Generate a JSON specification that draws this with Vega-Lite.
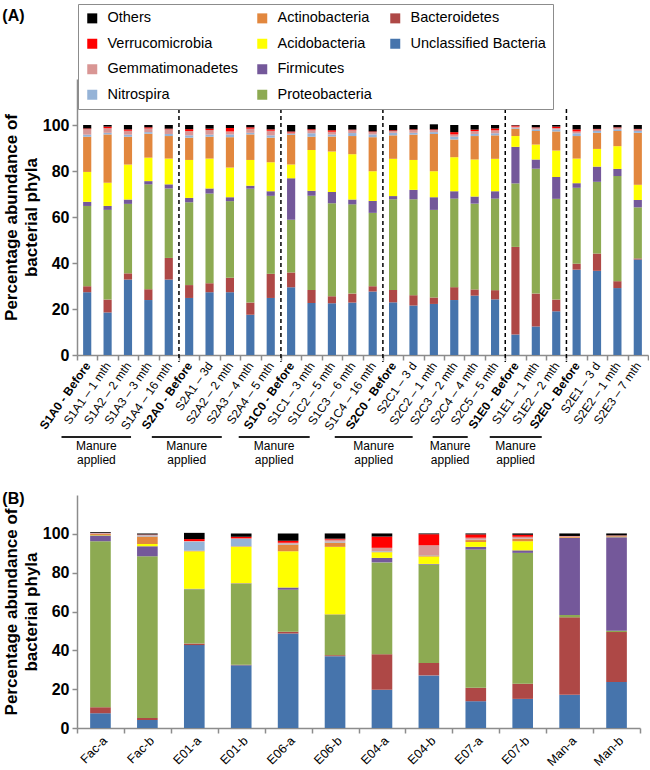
{
  "$schema": "https://vega.github.io/schema/vega-lite/v6.json",
  "padding": {"left": 2, "top": 3, "right": 0, "bottom": 0},
  "config": {
    "font": "Liberation Sans",
    "view": {"stroke": null},
    "axis": {"grid": false, "domainColor": "#8c8c8c", "tickColor": "#8c8c8c", "domainWidth": 1.5, "tickWidth": 1.5, "labelColor": "#000", "titleColor": "#000", "labelFont": "Liberation Sans", "titleFont": "Liberation Sans"},
    "legend": {"labelFont": "Liberation Sans"},
    "title": {"font": "Liberation Sans", "fontSize": 16, "fontWeight": "bold", "color": "#000"}
  },
  "datasets": {
    "phyla": [
      {"p": "Unclassified Bacteria", "k": 1},
      {"p": "Bacteroidetes", "k": 2},
      {"p": "Proteobacteria", "k": 3},
      {"p": "Firmicutes", "k": 4},
      {"p": "Acidobacteria", "k": 5},
      {"p": "Actinobacteria", "k": 6},
      {"p": "Nitrospira", "k": 7},
      {"p": "Gemmatimonadetes", "k": 8},
      {"p": "Verrucomicrobia", "k": 9},
      {"p": "Others", "k": 10}
    ],
    "manure": [
      {"start": -0.76, "end": 2.65, "mid": 0.95, "label": "Manure\napplied"},
      {"start": 3.67, "end": 7.1, "mid": 5.38, "label": "Manure\napplied"},
      {"start": 7.93, "end": 11.41, "mid": 9.67, "label": "Manure\napplied"},
      {"start": 12.64, "end": 16.46, "mid": 14.55, "label": "Manure\napplied"},
      {"start": 17.44, "end": 19.16, "mid": 18.3, "label": "Manure\napplied"},
      {"start": 20.24, "end": 22.79, "mid": 21.51, "label": "Manure\napplied"}
    ],
    "a": [
      {"s": "S1A0 - Before", "Unclassified Bacteria": 27.3, "Bacteroidetes": 2.6, "Proteobacteria": 34.9, "Firmicutes": 1.8, "Acidobacteria": 13.0, "Actinobacteria": 15.3, "Nitrospira": 0.9, "Gemmatimonadetes": 2.4, "Verrucomicrobia": 0.3, "Others": 1.5},
      {"s": "S1A1 – 1 mth", "Unclassified Bacteria": 18.5, "Bacteroidetes": 5.6, "Proteobacteria": 39.0, "Firmicutes": 1.7, "Acidobacteria": 10.1, "Actinobacteria": 21.0, "Nitrospira": 0.7, "Gemmatimonadetes": 2.0, "Verrucomicrobia": 0.7, "Others": 0.7},
      {"s": "S1A2 – 2 mth", "Unclassified Bacteria": 32.8, "Bacteroidetes": 2.7, "Proteobacteria": 30.2, "Firmicutes": 1.9, "Acidobacteria": 15.2, "Actinobacteria": 12.1, "Nitrospira": 0.9, "Gemmatimonadetes": 1.7, "Verrucomicrobia": 0.6, "Others": 1.9},
      {"s": "S1A3 – 3 mth", "Unclassified Bacteria": 23.9, "Bacteroidetes": 4.7, "Proteobacteria": 45.6, "Firmicutes": 1.4, "Acidobacteria": 10.2, "Actinobacteria": 10.4, "Nitrospira": 0.7, "Gemmatimonadetes": 1.6, "Verrucomicrobia": 0.5, "Others": 1.0},
      {"s": "S1A4 – 16 mth", "Unclassified Bacteria": 32.8, "Bacteroidetes": 9.4, "Proteobacteria": 30.2, "Firmicutes": 1.8, "Acidobacteria": 11.2, "Actinobacteria": 9.8, "Nitrospira": 0.9, "Gemmatimonadetes": 2.0, "Verrucomicrobia": 0.3, "Others": 1.6},
      {"s": "S2A0 - Before", "Unclassified Bacteria": 24.8, "Bacteroidetes": 5.6, "Proteobacteria": 36.0, "Firmicutes": 1.9, "Acidobacteria": 16.5, "Actinobacteria": 9.7, "Nitrospira": 1.0, "Gemmatimonadetes": 1.9, "Verrucomicrobia": 0.8, "Others": 1.8},
      {"s": "S2A1 – 3d", "Unclassified Bacteria": 27.3, "Bacteroidetes": 3.9, "Proteobacteria": 39.0, "Firmicutes": 2.2, "Acidobacteria": 13.0, "Actinobacteria": 9.5, "Nitrospira": 0.9, "Gemmatimonadetes": 2.0, "Verrucomicrobia": 0.6, "Others": 1.6},
      {"s": "S2A2 – 2 mth", "Unclassified Bacteria": 27.3, "Bacteroidetes": 6.3, "Proteobacteria": 33.3, "Firmicutes": 1.7, "Acidobacteria": 12.9, "Actinobacteria": 13.2, "Nitrospira": 1.2, "Gemmatimonadetes": 1.3, "Verrucomicrobia": 1.5, "Others": 1.3},
      {"s": "S2A3 – 4 mth", "Unclassified Bacteria": 17.5, "Bacteroidetes": 5.3, "Proteobacteria": 49.5, "Firmicutes": 1.3, "Acidobacteria": 11.2, "Actinobacteria": 11.1, "Nitrospira": 0.7, "Gemmatimonadetes": 1.8, "Verrucomicrobia": 0.6, "Others": 1.0},
      {"s": "S2A4 – 5 mth", "Unclassified Bacteria": 24.8, "Bacteroidetes": 10.5, "Proteobacteria": 33.9, "Firmicutes": 2.0, "Acidobacteria": 12.6, "Actinobacteria": 10.7, "Nitrospira": 1.0, "Gemmatimonadetes": 2.0, "Verrucomicrobia": 0.6, "Others": 1.9},
      {"s": "S1C0 - Before", "Unclassified Bacteria": 29.5, "Bacteroidetes": 6.4, "Proteobacteria": 22.9, "Firmicutes": 18.1, "Acidobacteria": 5.9, "Actinobacteria": 13.0, "Nitrospira": 0.3, "Gemmatimonadetes": 0.6, "Verrucomicrobia": 0.5, "Others": 2.8},
      {"s": "S1C1 – 3 mth", "Unclassified Bacteria": 22.6, "Bacteroidetes": 5.7, "Proteobacteria": 40.9, "Firmicutes": 2.2, "Acidobacteria": 17.7, "Actinobacteria": 5.8, "Nitrospira": 1.5, "Gemmatimonadetes": 1.3, "Verrucomicrobia": 0.4, "Others": 1.9},
      {"s": "S1C2 – 5 mth", "Unclassified Bacteria": 22.5, "Bacteroidetes": 3.0, "Proteobacteria": 40.5, "Firmicutes": 4.9, "Acidobacteria": 17.6, "Actinobacteria": 6.5, "Nitrospira": 0.9, "Gemmatimonadetes": 1.2, "Verrucomicrobia": 0.6, "Others": 2.3},
      {"s": "S1C3 – 6 mth", "Unclassified Bacteria": 22.8, "Bacteroidetes": 3.9, "Proteobacteria": 38.8, "Firmicutes": 2.1, "Acidobacteria": 19.7, "Actinobacteria": 7.9, "Nitrospira": 1.3, "Gemmatimonadetes": 1.2, "Verrucomicrobia": 0.3, "Others": 2.0},
      {"s": "S1C4 – 16 mth", "Unclassified Bacteria": 27.6, "Bacteroidetes": 2.3, "Proteobacteria": 31.9, "Firmicutes": 5.2, "Acidobacteria": 12.9, "Actinobacteria": 14.8, "Nitrospira": 1.2, "Gemmatimonadetes": 1.0, "Verrucomicrobia": 0.3, "Others": 2.8},
      {"s": "S2C0 - Before", "Unclassified Bacteria": 22.9, "Bacteroidetes": 5.4, "Proteobacteria": 39.4, "Firmicutes": 1.4, "Acidobacteria": 16.2, "Actinobacteria": 10.2, "Nitrospira": 1.1, "Gemmatimonadetes": 0.8, "Verrucomicrobia": 0.3, "Others": 2.3},
      {"s": "S2C1 – 3 d", "Unclassified Bacteria": 21.5, "Bacteroidetes": 4.5, "Proteobacteria": 41.7, "Firmicutes": 4.1, "Acidobacteria": 13.0, "Actinobacteria": 11.0, "Nitrospira": 0.8, "Gemmatimonadetes": 1.2, "Verrucomicrobia": 0.3, "Others": 1.9},
      {"s": "S2C2 – 1 mth", "Unclassified Bacteria": 22.2, "Bacteroidetes": 2.8, "Proteobacteria": 38.1, "Firmicutes": 5.5, "Acidobacteria": 11.3, "Actinobacteria": 16.2, "Nitrospira": 0.8, "Gemmatimonadetes": 0.9, "Verrucomicrobia": 0.3, "Others": 2.2},
      {"s": "S2C3 – 2 mth", "Unclassified Bacteria": 23.9, "Bacteroidetes": 5.6, "Proteobacteria": 38.5, "Firmicutes": 3.2, "Acidobacteria": 14.8, "Actinobacteria": 7.7, "Nitrospira": 1.2, "Gemmatimonadetes": 1.0, "Verrucomicrobia": 1.0, "Others": 3.1},
      {"s": "S2C4 – 4 mth", "Unclassified Bacteria": 25.8, "Bacteroidetes": 2.7, "Proteobacteria": 37.3, "Firmicutes": 3.1, "Acidobacteria": 16.1, "Actinobacteria": 10.2, "Nitrospira": 0.9, "Gemmatimonadetes": 1.3, "Verrucomicrobia": 0.6, "Others": 2.0},
      {"s": "S2C5 – 5 mth", "Unclassified Bacteria": 24.2, "Bacteroidetes": 4.0, "Proteobacteria": 39.8, "Firmicutes": 3.2, "Acidobacteria": 14.1, "Actinobacteria": 10.2, "Nitrospira": 0.9, "Gemmatimonadetes": 1.3, "Verrucomicrobia": 0.8, "Others": 1.5},
      {"s": "S1E0 - Before", "Unclassified Bacteria": 8.9, "Bacteroidetes": 38.1, "Proteobacteria": 27.6, "Firmicutes": 15.9, "Acidobacteria": 4.7, "Actinobacteria": 3.2, "Nitrospira": 0.4, "Gemmatimonadetes": 0.5, "Verrucomicrobia": 0.5, "Others": 0.2},
      {"s": "S1E1 – 1 mth", "Unclassified Bacteria": 12.4, "Bacteroidetes": 14.3, "Proteobacteria": 54.3, "Firmicutes": 4.0, "Acidobacteria": 6.5, "Actinobacteria": 5.9, "Nitrospira": 0.7, "Gemmatimonadetes": 0.7, "Verrucomicrobia": 0.2, "Others": 1.0},
      {"s": "S1E2 – 2 mth", "Unclassified Bacteria": 19.0, "Bacteroidetes": 5.1, "Proteobacteria": 43.8, "Firmicutes": 9.5, "Acidobacteria": 11.5, "Actinobacteria": 8.3, "Nitrospira": 0.9, "Gemmatimonadetes": 0.6, "Verrucomicrobia": 0.6, "Others": 0.7},
      {"s": "S2E0 - Before", "Unclassified Bacteria": 37.1, "Bacteroidetes": 2.6, "Proteobacteria": 33.0, "Firmicutes": 2.0, "Acidobacteria": 10.7, "Actinobacteria": 9.8, "Nitrospira": 1.2, "Gemmatimonadetes": 0.8, "Verrucomicrobia": 0.9, "Others": 1.9},
      {"s": "S2E1 – 3 d", "Unclassified Bacteria": 36.6, "Bacteroidetes": 7.5, "Proteobacteria": 31.2, "Firmicutes": 6.6, "Acidobacteria": 7.7, "Actinobacteria": 7.0, "Nitrospira": 0.8, "Gemmatimonadetes": 0.7, "Verrucomicrobia": 0.2, "Others": 1.7},
      {"s": "S2E2 – 1 mth", "Unclassified Bacteria": 29.1, "Bacteroidetes": 3.0, "Proteobacteria": 45.7, "Firmicutes": 3.1, "Acidobacteria": 9.9, "Actinobacteria": 6.6, "Nitrospira": 0.7, "Gemmatimonadetes": 0.7, "Verrucomicrobia": 0.2, "Others": 1.0},
      {"s": "S2E3 – 7 mth", "Unclassified Bacteria": 41.5, "Bacteroidetes": 0.5, "Proteobacteria": 22.2, "Firmicutes": 3.2, "Acidobacteria": 6.6, "Actinobacteria": 22.6, "Nitrospira": 0.8, "Gemmatimonadetes": 0.7, "Verrucomicrobia": 0.2, "Others": 1.7}
    ],
    "b": [
      {"s": "Fac-a", "Unclassified Bacteria": 7.6, "Bacteroidetes": 3.1, "Proteobacteria": 85.5, "Firmicutes": 3.0, "Acidobacteria": 0.2, "Actinobacteria": 0.5, "Nitrospira": 0.2, "Gemmatimonadetes": 0.3, "Verrucomicrobia": 0.1, "Others": 0.4},
      {"s": "Fac-b", "Unclassified Bacteria": 4.1, "Bacteroidetes": 1.1, "Proteobacteria": 83.2, "Firmicutes": 5.2, "Acidobacteria": 1.2, "Actinobacteria": 3.8, "Nitrospira": 0.6, "Gemmatimonadetes": 0.3, "Verrucomicrobia": 0.1, "Others": 0.6},
      {"s": "E01-a", "Unclassified Bacteria": 42.7, "Bacteroidetes": 0.8, "Proteobacteria": 28.0, "Firmicutes": 0.2, "Acidobacteria": 19.3, "Actinobacteria": 0.3, "Nitrospira": 4.7, "Gemmatimonadetes": 0.3, "Verrucomicrobia": 1.0, "Others": 3.2},
      {"s": "E01-b", "Unclassified Bacteria": 32.3, "Bacteroidetes": 0.3, "Proteobacteria": 41.7, "Firmicutes": 0.2, "Acidobacteria": 18.8, "Actinobacteria": 0.3, "Nitrospira": 3.8, "Gemmatimonadetes": 0.3, "Verrucomicrobia": 0.8, "Others": 1.7},
      {"s": "E06-a", "Unclassified Bacteria": 48.7, "Bacteroidetes": 0.9, "Proteobacteria": 21.6, "Firmicutes": 1.2, "Acidobacteria": 18.6, "Actinobacteria": 3.5, "Nitrospira": 0.4, "Gemmatimonadetes": 0.5, "Verrucomicrobia": 1.0, "Others": 3.8},
      {"s": "E06-b", "Unclassified Bacteria": 37.0, "Bacteroidetes": 0.5, "Proteobacteria": 20.7, "Firmicutes": 0.3, "Acidobacteria": 34.8, "Actinobacteria": 2.2, "Nitrospira": 0.5, "Gemmatimonadetes": 1.0, "Verrucomicrobia": 0.5, "Others": 2.7},
      {"s": "E04-a", "Unclassified Bacteria": 19.7, "Bacteroidetes": 18.3, "Proteobacteria": 47.3, "Firmicutes": 2.3, "Acidobacteria": 2.9, "Actinobacteria": 0.3, "Nitrospira": 0.3, "Gemmatimonadetes": 1.7, "Verrucomicrobia": 5.8, "Others": 1.6},
      {"s": "E04-b", "Unclassified Bacteria": 27.1, "Bacteroidetes": 6.4, "Proteobacteria": 50.7, "Firmicutes": 0.3, "Acidobacteria": 3.8, "Actinobacteria": 0.6, "Nitrospira": 0.2, "Gemmatimonadetes": 5.0, "Verrucomicrobia": 5.7, "Others": 0.4},
      {"s": "E07-a", "Unclassified Bacteria": 13.8, "Bacteroidetes": 6.9, "Proteobacteria": 71.2, "Firmicutes": 1.4, "Acidobacteria": 2.5, "Actinobacteria": 1.0, "Nitrospira": 0.2, "Gemmatimonadetes": 1.0, "Verrucomicrobia": 1.7, "Others": 0.5},
      {"s": "E07-b", "Unclassified Bacteria": 15.0, "Bacteroidetes": 7.8, "Proteobacteria": 67.4, "Firmicutes": 1.3, "Acidobacteria": 4.7, "Actinobacteria": 1.2, "Nitrospira": 0.2, "Gemmatimonadetes": 0.9, "Verrucomicrobia": 1.0, "Others": 0.7},
      {"s": "Man-a", "Unclassified Bacteria": 17.1, "Bacteroidetes": 39.9, "Proteobacteria": 1.2, "Firmicutes": 39.7, "Acidobacteria": 0.1, "Actinobacteria": 0.5, "Nitrospira": 0.1, "Gemmatimonadetes": 0.2, "Verrucomicrobia": 0.1, "Others": 1.3},
      {"s": "Man-b", "Unclassified Bacteria": 23.7, "Bacteroidetes": 25.7, "Proteobacteria": 0.7, "Firmicutes": 48.2, "Acidobacteria": 0.1, "Actinobacteria": 0.4, "Nitrospira": 0.1, "Gemmatimonadetes": 0.2, "Verrucomicrobia": 0.1, "Others": 1.0}
    ]
  },
  "resolve": {"scale": {"color": "independent", "x": "independent", "y": "independent"}, "legend": {"color": "independent"}},
  "spacing": 25,
  "vconcat": [
    {
      "title": {"text": "(A)", "anchor": "start", "frame": "bounds", "offset": -20},
      "width": 571,
      "height": 276,
      "resolve": {"scale": {"x": "independent"}},
      "layer": [
        {
          "layer": [
            {
              "data": {"name": "a"},
              "transform": [
                {"fold": ["Unclassified Bacteria", "Bacteroidetes", "Proteobacteria", "Firmicutes", "Acidobacteria", "Actinobacteria", "Nitrospira", "Gemmatimonadetes", "Verrucomicrobia", "Others"], "as": ["phylum", "pct"]},
                {"lookup": "phylum", "from": {"data": {"name": "phyla"}, "key": "p", "fields": ["k"]}}
              ],
              "mark": {"type": "bar", "width": {"band": 0.4}},
              "encoding": {
                "x": {"field": "s", "type": "nominal", "sort": null, "scale": {"paddingInner": 0, "paddingOuter": 0},
                  "axis": {"title": null, "labelAngle": -55, "labelFontSize": 12, "tickBand": "extent", "tickSize": 5, "labelPadding": 3,
                    "labelFontWeight": {"condition": {"test": "indexof(datum.label, 'Before') >= 0", "value": "bold"}, "value": "normal"}}},
                "y": {"field": "pct", "type": "quantitative", "stack": "zero", "scale": {"domain": [0, 120], "nice": false},
                  "axis": {"values": [0, 20, 40, 60, 80, 100], "title": ["Percentage abundance of", "bacterial phyla"], "labelFontSize": 16, "labelFontWeight": "bold", "titleFontSize": 17, "titleFontWeight": "bold", "titleLineHeight": 20, "tickSize": 5, "labelPadding": 3, "titlePadding": 2}},
                "color": {"field": "phylum", "type": "nominal",
                  "scale": {"domain": ["Others", "Verrucomicrobia", "Gemmatimonadetes", "Nitrospira", "Actinobacteria", "Acidobacteria", "Firmicutes", "Proteobacteria", "Bacteroidetes", "Unclassified Bacteria", " "],
                            "range": ["#000000", "#FF0000", "#D99694", "#95B3D7", "#E2873E", "#FFFF00", "#74589A", "#8DAA52", "#AE4846", "#4674AC", "#FFFFFF"]},
                  "legend": {"orient": "none", "legendX": 1, "legendY": -75, "title": null, "columns": 3, "strokeColor": "#8c8c8c", "fillColor": "#FFFFFF", "padding": 7, "symbolType": "square", "symbolSize": 100, "symbolStrokeWidth": 0, "labelFontSize": 14.5, "labelOffset": 8, "rowPadding": 10.5, "columnPadding": 16, "gridAlign": "each"}},
                "order": {"field": "k", "type": "quantitative"}
              }
            },
            {
              "data": {"name": "a"},
              "transform": [{"filter": "indexof(datum.s, 'Before') >= 0 && datum.s != 'S1A0 - Before'"}],
              "mark": {"type": "rule", "strokeDash": [4, 3], "strokeWidth": 1.5, "color": "#000"},
              "encoding": {
                "x": {"field": "s", "type": "nominal", "sort": null, "bandPosition": 0},
                "y": {"datum": 107},
                "y2": {"datum": -3}
              }
            }
          ]
        },
        {
          "data": {"name": "manure"},
          "mark": {"type": "rule", "strokeWidth": 2, "color": "#222"},
          "encoding": {
            "x": {"field": "start", "type": "quantitative", "scale": {"domain": [0, 28], "nice": false, "zero": false}, "axis": null},
            "x2": {"field": "end"},
            "y": {"datum": -35.7}
          }
        },
        {
          "data": {"name": "manure"},
          "mark": {"type": "text", "baseline": "top", "align": "center", "fontSize": 12, "lineHeight": 13.5, "lineBreak": "\n", "color": "#000"},
          "encoding": {
            "x": {"field": "mid", "type": "quantitative", "scale": {"domain": [0, 28], "nice": false, "zero": false}, "axis": null},
            "y": {"datum": -37.5},
            "text": {"field": "label"}
          }
        }
      ]
    },
    {
      "title": {"text": "(B)", "anchor": "start", "frame": "bounds", "offset": -12},
      "width": 563,
      "height": 233,
      "data": {"name": "b"},
      "transform": [
        {"fold": ["Unclassified Bacteria", "Bacteroidetes", "Proteobacteria", "Firmicutes", "Acidobacteria", "Actinobacteria", "Nitrospira", "Gemmatimonadetes", "Verrucomicrobia", "Others"], "as": ["phylum", "pct"]},
        {"lookup": "phylum", "from": {"data": {"name": "phyla"}, "key": "p", "fields": ["k"]}}
      ],
      "mark": {"type": "bar", "width": {"band": 0.44}},
      "encoding": {
        "x": {"field": "s", "type": "nominal", "sort": null, "scale": {"paddingInner": 0, "paddingOuter": 0},
          "axis": {"title": null, "labelAngle": -45, "labelFontSize": 12.5, "tickBand": "extent", "tickSize": 5, "labelPadding": 1}},
        "y": {"field": "pct", "type": "quantitative", "stack": "zero", "scale": {"domain": [0, 120], "nice": false},
          "axis": {"values": [0, 20, 40, 60, 80, 100], "title": ["Percentage abundance of", "bacterial phyla"], "labelFontSize": 16, "labelFontWeight": "bold", "titleFontSize": 17, "titleFontWeight": "bold", "titleLineHeight": 20, "tickSize": 5, "labelPadding": 3, "titlePadding": 2}},
        "color": {"field": "phylum", "type": "nominal",
          "scale": {"domain": ["Others", "Verrucomicrobia", "Gemmatimonadetes", "Nitrospira", "Actinobacteria", "Acidobacteria", "Firmicutes", "Proteobacteria", "Bacteroidetes", "Unclassified Bacteria"],
                    "range": ["#000000", "#FF0000", "#D99694", "#95B3D7", "#E2873E", "#FFFF00", "#74589A", "#8DAA52", "#AE4846", "#4674AC"]},
          "legend": null},
        "order": {"field": "k", "type": "quantitative"}
      }
    }
  ]
}
